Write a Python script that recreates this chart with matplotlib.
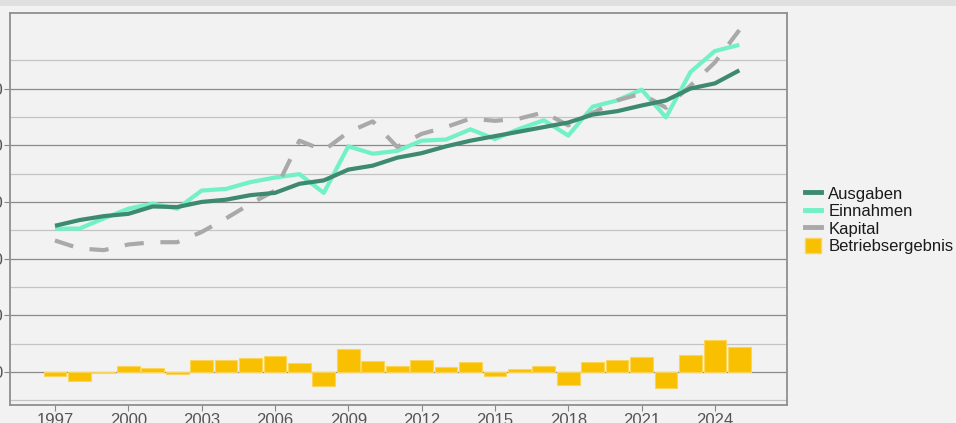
import matplotlib
matplotlib.use("Agg")
import matplotlib.pyplot as plt
from matplotlib.patches import Rectangle
from matplotlib.lines import Line2D
from matplotlib.patches import Patch

years = list(range(1997, 2026))
ausgaben = [258, 268, 275, 279, 292, 291, 300, 304, 312, 316, 332, 338, 357, 364, 378,
            386, 398, 408, 416, 424, 432, 440, 454, 460, 470, 479, 500, 509, 532]
einnahmen = [253, 253, 271, 288, 297, 288, 320, 323, 335, 343, 349, 316, 398, 385, 390,
             408, 410, 428, 411, 429, 444, 417, 468, 479, 498, 449, 529, 566, 577]
kapital = [232, 218, 215, 225, 229, 229, 247, 271, 297, 320, 408, 391, 423, 442, 397,
           420, 432, 447, 443, 447, 458, 435, 457, 479, 491, 466, 505, 546, 603]
betriebsergebnis = [-7, -15, -2, 11, 6.5, -3, 20.5, 20.5, 24.6, 28, 16.4, -24, 40, 19.4, 10.6,
                    20.5, 9.4, 17.6, -7, 4.7, 11, -23.5, 17.6, 20.5, 26.4, -28.7, 30, 56.3, 45]
x_ticks = [1997, 2000, 2003, 2006, 2009, 2012, 2015, 2018, 2021, 2024]
y_ticks = [0, 100, 200, 300, 400, 500]

bg = "#f2f2f2"
fig = plt.figure(figsize=(9.56, 4.23), dpi=100, facecolor=bg)
fig.patches.append(Rectangle((0, 1 - 6 / 423), 1, 6 / 423, transform=fig.transFigure,
                             facecolor="#e0e0e0", edgecolor="none", zorder=0))
ax = fig.add_axes([10 / 956, 18 / 423, 777 / 956, 392.5 / 423])
ax.set_facecolor(bg)

ax.bar(years, betriebsergebnis, width=0.93, color="#f8c000", edgecolor="#fad55c",
       linewidth=0.8, zorder=2)
ax.plot(years, ausgaben, color="#3d8a6e", lw=3.0, zorder=4, solid_capstyle="butt")
ax.plot(years, einnahmen, color="#72f0c6", lw=3.0, zorder=3, solid_capstyle="butt")
ax.plot(years, kapital, color="#a9a9a9", lw=3.0, zorder=3, linestyle=(0, (4.6, 4.0)),
        dash_capstyle="butt")

ax.set_xlim(1995.16, 2026.95)
ax.set_ylim(-58, 634)

# secondary (half-step) grid lines
for v in range(-50, 650, 100):
    ax.axhline(v, color="#c4c4c4", lw=0.9, zorder=0.5)
for v in y_ticks:
    ax.axhline(v, color="#8a8a8a", lw=0.9, zorder=0.6)

ax.set_xticks(x_ticks)
ax.set_yticks(y_ticks)
ax.tick_params(axis="x", length=4, width=0.8, color="#888888", labelsize=12,
               labelcolor="#555555", pad=1.5)
ax.tick_params(axis="y", length=4, width=0.8, color="#888888", labelsize=12,
               labelcolor="#555555", pad=1)
for lab in ax.get_xticklabels() + ax.get_yticklabels():
    lab.set_family("Liberation Sans")
for s in ax.spines.values():
    s.set_color("#8f8f8f")
    s.set_linewidth(1.3)

handles = [Line2D([0], [0], color="#3d8a6e", lw=3.5),
           Line2D([0], [0], color="#72f0c6", lw=3.5),
           Line2D([0], [0], color="#a9a9a9", lw=3.5),
           Patch(facecolor="#f8c000", edgecolor="#fad55c")]
labels = ["Ausgaben", "Einnahmen", "Kapital", "Betriebsergebnis"]
leg = fig.legend(handles, labels, loc="center left", bbox_to_anchor=(805 / 956, 1 - 220 / 423),
                 frameon=False, prop={"family": "Liberation Sans", "size": 12},
                 handlelength=0.95, handleheight=1.0, handletextpad=0.45, labelspacing=0.08,
                 labelcolor="#1a1a1a", borderpad=0, borderaxespad=0)

fig.savefig("out.png", dpi=100, facecolor=bg)
